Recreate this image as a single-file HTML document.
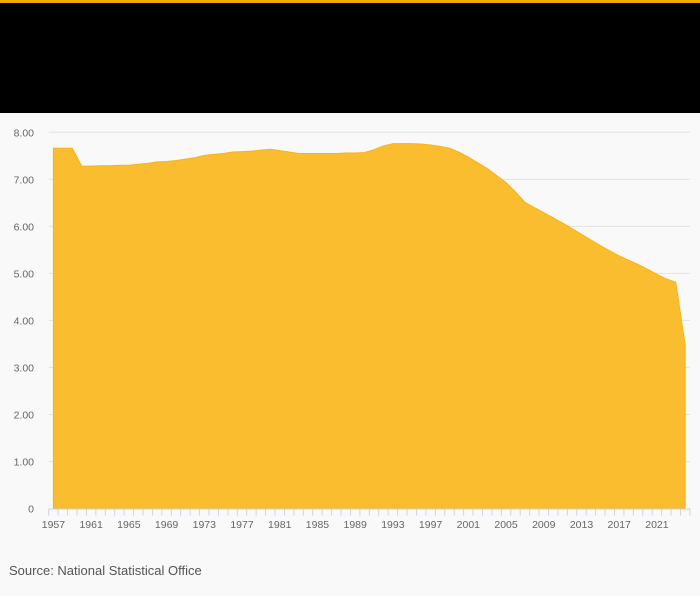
<!DOCTYPE html>
<html><head><meta charset="utf-8"><style>
html,body{margin:0;padding:0}
body{width:700px;height:596px;background:#f9f9f9;font-family:"Liberation Sans",sans-serif;position:relative;overflow:hidden}
#topbar{position:absolute;left:0;top:0;width:700px;height:3px;background:#f7a800}
#header{position:absolute;left:0;top:3px;width:700px;height:110px;background:#000}
#source{position:absolute;left:9px;top:563px;font-size:13px;color:#555}
svg{position:absolute;left:0;top:0}
</style></head><body>
<div id="topbar"></div>
<div id="header"></div>
<svg width="700" height="596" id="chart"></svg>
<div id="source">Source: National Statistical Office</div>
<script>
const years = [];
for (let y = 1957; y <= 2024; y++) years.push(y);
const values = [7.66,7.66,7.66,7.28,7.28,7.29,7.29,7.30,7.30,7.32,7.34,7.37,7.38,7.40,7.43,7.46,7.51,7.53,7.55,7.58,7.59,7.60,7.62,7.64,7.61,7.58,7.55,7.55,7.55,7.55,7.55,7.56,7.56,7.57,7.63,7.71,7.76,7.76,7.76,7.75,7.73,7.70,7.66,7.58,7.47,7.35,7.23,7.08,6.93,6.73,6.51,6.40,6.29,6.18,6.07,5.95,5.83,5.71,5.59,5.48,5.37,5.28,5.19,5.09,4.98,4.88,4.81,3.47];
const yTicks = [0,1,2,3,4,5,6,7,8];
const yTickLabels = ["0","1.00","2.00","3.00","4.00","5.00","6.00","7.00","8.00"];
const xLabelYears = [1957,1961,1965,1969,1973,1977,1981,1985,1989,1993,1997,2001,2005,2009,2013,2017,2021];

const NS = "http://www.w3.org/2000/svg";
const svg = document.getElementById('chart');
const x0 = 48.7, step = 9.43, yBase = 508.5, yTop = 132.3, yMax = 8;
const xScale = i => x0 + step * (i + 0.5);
const yScale = v => yBase - (v / yMax) * (yBase - yTop);
function mk(tag, attrs){const e=document.createElementNS(NS,tag);for(const k in attrs)e.setAttribute(k,attrs[k]);svg.appendChild(e);return e;}

yTicks.forEach((t,i)=>{
  if (t>0){
    const g = mk('line',{x1:x0,x2:690,y1:yScale(t),y2:yScale(t),stroke:'#e2e2e2','stroke-width':1});
    
    
  }
  const tx = mk('text',{x:34,y:yScale(t)+4,'text-anchor':'end','font-size':'10.5','fill':'#666','font-family':'Liberation Sans, sans-serif'});
  tx.textContent = yTickLabels[i];
  
  
});

let d = 'M' + xScale(0) + ',' + yScale(0);
values.forEach((v,i)=>{ d += ' L' + xScale(i) + ',' + yScale(v); });
d += ' L' + xScale(values.length-1) + ',' + yScale(0) + ' Z';
const area = mk('path',{d:d,fill:'#f9bd2f',stroke:'#f7b418','stroke-width':1});



const ax = mk('line',{x1:x0,x2:x0+step*years.length,y1:yBase+0.5,y2:yBase+0.5,stroke:'#c8d3e8','stroke-width':1});


for (let i=0;i<=years.length;i++){
  const tk = mk('line',{x1:x0+step*i,x2:x0+step*i,y1:yBase,y2:yBase+7,stroke:'#c8d3e8','stroke-width':1});
  
  
}
xLabelYears.forEach(yr=>{
  const i = years.indexOf(yr);
  const tx = mk('text',{x:xScale(i),y:528,'text-anchor':'middle','font-size':'10.5','fill':'#666','font-family':'Liberation Sans, sans-serif'});
  tx.textContent = yr;
  
  
});
</script>
</body></html>
